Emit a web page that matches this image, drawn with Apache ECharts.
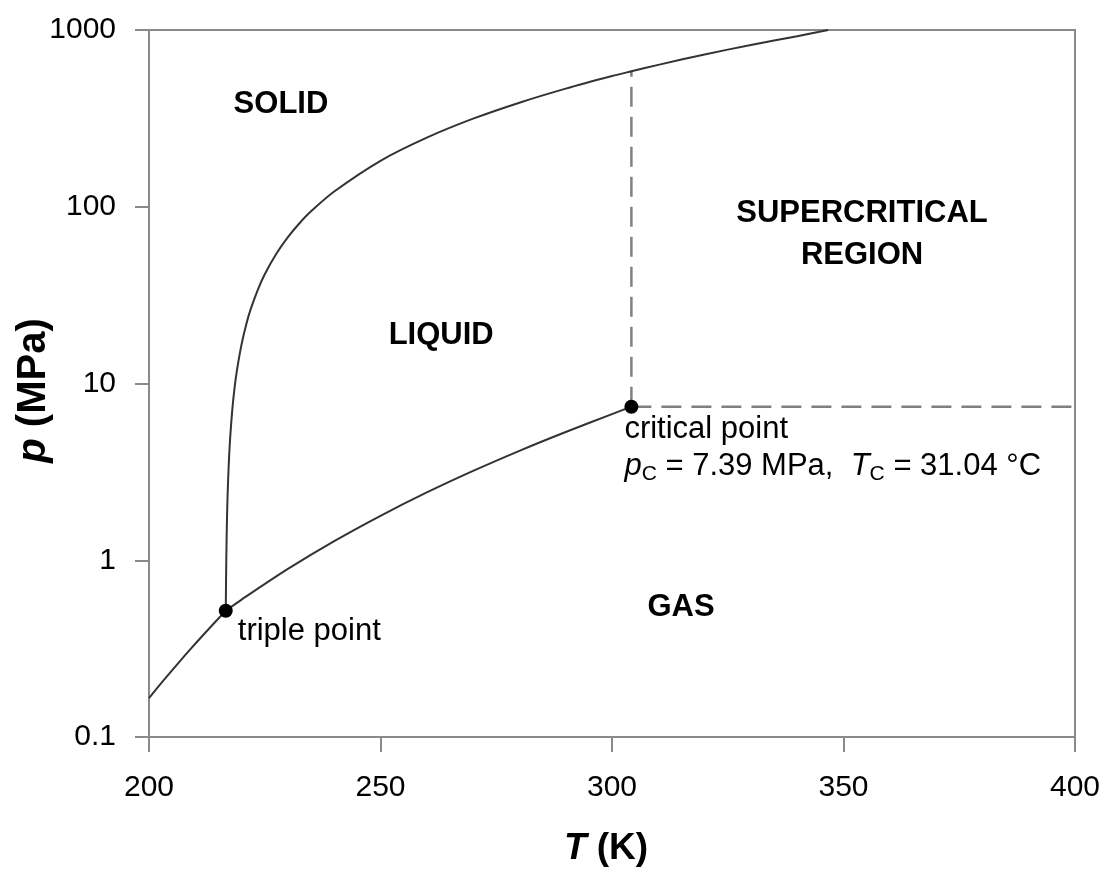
<!DOCTYPE html>
<html>
<head>
<meta charset="utf-8">
<title>CO2 phase diagram</title>
<script src="https://cdn.jsdelivr.net/npm/echarts@6/dist/echarts.min.js"></script>
<style>
  html, body { margin: 0; padding: 0; background: #fff; }
  #chart { width: 1112px; height: 872px; }
</style>
</head>
<body>
<div id="chart"></div>
<script>
// Temperature axis (K) and pressure axis (MPa, logarithmic)
const xTicks = [200, 250, 300, 350, 400];
const yTickLabels = ['0.1', '1', '10', '100', '1000'];

// Sublimation curve (solid–gas)
const sublimationT = [200, 203, 206, 209, 212, 215, 216.58];
const sublimationP = [0.166, 0.207, 0.256, 0.315, 0.385, 0.468, 0.518];

// Vaporization curve (liquid–gas), triple point to critical point
const vaporT = [216.58, 220, 230, 240, 250, 260, 270, 280, 290, 300, 304.19];
const vaporP = [0.518, 0.599, 0.893, 1.283, 1.785, 2.419, 3.203, 4.161, 5.318, 6.713, 7.39];

// Melting curve (solid–liquid)
const meltT = [216.58, 216.65, 216.7, 216.8, 216.9, 217, 217.2, 217.5, 218, 218.5, 219, 220, 221, 222,
               223.5, 225, 227.5, 230, 232.5, 235, 240, 250, 260, 270, 280, 290, 300, 304.19, 310,
               320, 330, 340, 346.7];
const meltP = [0.518, 0.80, 1.03, 1.50, 1.97, 2.44, 3.38, 4.79, 7.16, 9.53, 11.9, 16.7, 21.6, 26.5,
               33.9, 41.5, 54.2, 67.3, 80.7, 94.3, 122, 182, 246, 315, 388, 466, 549, 584, 635,
               727, 823, 923, 1000];

// Special points
const triplePoint = { T: 216.58, p: 0.518 };
const criticalPressure = 7.39;       // MPa
const criticalTempC = 31.04;         // °C
const criticalTempK = criticalTempC + 273.15;
const criticalMeltP = 584;           // melting pressure at the critical temperature

// Region names
const regionNames = ['SOLID', 'LIQUID', 'SUPERCRITICAL\nREGION', 'GAS'];

const zip = (xs, ys) => xs.map((x, i) => [x, ys[i]]);

const FONT = '"Liberation Sans", Arial, Helvetica, sans-serif';
const AXIS_GREY = '#8a8a8a';
const CURVE = '#333333';
const DASH = '#808080';
const INK = '#000';

const chart = echarts.init(document.getElementById('chart'), null, { renderer: 'canvas' });

const curveSeries = (name, xs, ys) => ({
  name, type: 'line', data: zip(xs, ys),
  showSymbol: false, smooth: 0.3,
  lineStyle: { color: CURVE, width: 2 }, z: 3
});

const option = {
  backgroundColor: '#fff',
  animation: false,
  textStyle: { fontFamily: FONT },
  grid: {
    left: 149, right: 37, top: 30, bottom: 135,
    outerBoundsMode: 'none', containLabel: false,
    show: true, borderColor: AXIS_GREY, borderWidth: 2, backgroundColor: 'transparent'
  },
  xAxis: {
    type: 'value',
    min: xTicks[0], max: xTicks[xTicks.length - 1], interval: 50,
    name: '{i|T} (K)',
    nameLocation: 'middle',
    nameGap: 93,
    nameMoveOverlap: false,
    nameTextStyle: {
      color: INK, fontSize: 37, fontWeight: 'bold', fontFamily: FONT, padding: [0, 12, 0, 0],
      rich: { i: { fontStyle: 'italic', fontWeight: 'bold', fontSize: 37, fontFamily: FONT, color: INK } }
    },
    axisLine: { show: true, lineStyle: { color: AXIS_GREY, width: 2 } },
    axisTick: { show: true, length: 15, lineStyle: { color: AXIS_GREY, width: 2 } },
    axisLabel: { color: INK, fontSize: 30, fontFamily: FONT, margin: 36, formatter: v => String(v) },
    splitLine: { show: false }
  },
  yAxis: {
    type: 'log', logBase: 10,
    min: 0.1, max: 1000,
    name: '{i|p} (MPa)',
    nameLocation: 'middle',
    nameGap: 95,
    nameMoveOverlap: false,
    nameTextStyle: {
      color: INK, fontSize: 40, fontWeight: 'bold', fontFamily: FONT, padding: [0, 14, 0, 0],
      rich: { i: { fontStyle: 'italic', fontWeight: 'bold', fontSize: 40, fontFamily: FONT, color: INK } }
    },
    axisLine: { show: true, lineStyle: { color: AXIS_GREY, width: 2 } },
    axisTick: { show: true, length: 14, lineStyle: { color: AXIS_GREY, width: 2 } },
    minorTick: { show: false },
    axisLabel: {
      color: INK, fontSize: 30, fontFamily: FONT, margin: 33,
      formatter: v => yTickLabels[Math.round(Math.log10(v)) + 1]
    },
    splitLine: { show: false }
  },
  series: [
    curveSeries('sublimation', sublimationT, sublimationP),
    curveSeries('vaporization', vaporT, vaporP),
    curveSeries('melting', meltT, meltP),
    {
      name: 'critical isotherm', type: 'line',
      data: [[criticalTempK, criticalPressure], [criticalTempK, criticalMeltP]],
      showSymbol: false, lineStyle: { color: DASH, width: 2.5, type: [20, 10] }, z: 2
    },
    {
      name: 'critical isobar', type: 'line',
      data: [[criticalTempK, criticalPressure], [xTicks[xTicks.length - 1], criticalPressure]],
      showSymbol: false, lineStyle: { color: DASH, width: 2.5, type: [20, 10] }, z: 2
    },
    {
      name: 'triple point', type: 'scatter',
      data: [[triplePoint.T, triplePoint.p]],
      symbol: 'circle', symbolSize: 14, itemStyle: { color: '#000', opacity: 1 }, z: 5,
      label: {
        show: true, position: [19, 12], align: 'left', verticalAlign: 'top',
        fontSize: 31, fontFamily: FONT, color: INK,
        formatter: 'triple point'
      }
    },
    {
      name: 'critical point', type: 'scatter',
      data: [[criticalTempK, criticalPressure]],
      symbol: 'circle', symbolSize: 14, itemStyle: { color: '#000', opacity: 1 }, z: 5,
      label: {
        show: true, position: [0, 11], align: 'left', verticalAlign: 'top',
        fontSize: 31, fontFamily: FONT, color: INK, lineHeight: 37,
        formatter: 'critical point\n{i|p}{s|C} = ' + criticalPressure.toFixed(2) + ' MPa,  {i|T}{s|C} = ' +
                   criticalTempC.toFixed(2) + ' °C',
        rich: {
          i: { fontStyle: 'italic', fontSize: 31, fontFamily: FONT, color: INK, lineHeight: 37 },
          s: { fontSize: 21, fontFamily: FONT, color: INK, lineHeight: 37, verticalAlign: 'bottom' }
        }
      }
    },
    {
      name: 'regions', type: 'scatter',
      symbolSize: 0,
      itemStyle: { opacity: 1 },
      data: [
        { name: regionNames[0], value: [228.5, 381] },
        { name: regionNames[1], value: [263.1, 18.8] },
        { name: regionNames[2], value: [354.0, 70.1] },
        { name: regionNames[3], value: [314.9, 0.544] }
      ],
      label: {
        show: true, position: 'inside', formatter: p => p.name,
        fontSize: 31, fontWeight: 'bold', fontFamily: FONT, color: INK, lineHeight: 42, align: 'center'
      },
      z: 4
    }
  ]
};

chart.setOption(option);
</script>
</body>
</html>
